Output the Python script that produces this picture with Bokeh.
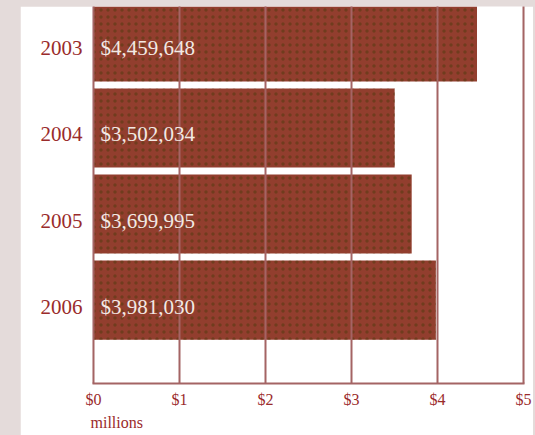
from bokeh.plotting import figure
from bokeh.models import Range1d, FixedTicker, Title, ColumnDataSource, LabelSet
from bokeh.transform import dodge
from bokeh.core.properties import value
from bokeh.embed import file_html
from bokeh.resources import INLINE

years = ["2003", "2004", "2005", "2006"]
amounts = [4459648, 3502034, 3699995, 3981030]
x_ticks = [0, 1, 2, 3, 4, 5]
x_tick_labels = ["$0", "$1", "$2", "$3", "$4", "$5"]
axis_unit = "millions"

BAR = "#923e2e"
GRID = "#a46464"
TXT = "#9a2b2b"
PAGE = "#e4dbda"
FONT = "Liberation Serif"

pos = [len(years) - i for i in range(len(years))]
src = ColumnDataSource(dict(
    year=years,
    pos=pos,
    millions=[a / 1e6 for a in amounts],
    label=[f"${a:,}" for a in amounts],
))

p = figure(width=513, height=429, output_backend="svg", toolbar_location=None,
           x_range=Range1d(-0.012, 5.012), y_range=Range1d(0.105, 4.488),
           min_border_left=72, min_border_right=9, min_border_top=0, min_border_bottom=52,
           background_fill_color="white", border_fill_color="white",
           outline_line_color=None)
p.margin = (6, 2, 0, 20)

p.hbar(y=dodge("pos", 0.075), left=0, right="millions", height=0.92, source=src,
       fill_color=BAR, line_color=None,
       hatch_pattern="dot", hatch_color="#5a3a12", hatch_scale=7, hatch_weight=1.5, hatch_alpha=0.6)

labels = LabelSet(x=0, y="pos", text="label", source=src, x_offset=7,
                  text_baseline="middle", text_align="left",
                  text_font=value(FONT), text_font_size="21px", text_color="#f3e9e4")
p.add_layout(labels)

p.xgrid.ticker = FixedTicker(ticks=x_ticks)
p.xgrid.grid_line_color = GRID
p.xgrid.grid_line_width = 2
p.xgrid.level = "guide"
p.ygrid.grid_line_color = None

p.xaxis.ticker = FixedTicker(ticks=x_ticks)
p.xaxis.major_label_overrides = {t: l for t, l in zip(x_ticks, x_tick_labels)}
p.xaxis.axis_line_color = GRID
p.xaxis.axis_line_width = 2
p.xaxis.major_tick_line_color = None
p.xaxis.minor_tick_line_color = None
p.xaxis.major_tick_out = 0
p.xaxis.major_label_standoff = 7
p.xaxis.major_label_text_font = FONT
p.xaxis.major_label_text_font_size = "16px"
p.xaxis.major_label_text_color = TXT

p.yaxis.ticker = FixedTicker(ticks=pos)
p.yaxis.major_label_overrides = {pp: y for pp, y in zip(pos, years)}
p.yaxis.axis_line_color = None
p.yaxis.major_tick_line_color = None
p.yaxis.minor_tick_line_color = None
p.yaxis.major_tick_out = 0
p.yaxis.major_label_standoff = 10
p.yaxis.major_label_text_font = FONT
p.yaxis.major_label_text_font_size = "21px"
p.yaxis.major_label_text_color = TXT

p.add_layout(Title(text=axis_unit, align="left", text_font=FONT, text_font_size="16px",
                   text_font_style="normal", text_color=TXT, standoff=2, offset=-2), "below")

html = file_html(p, INLINE)
html = html.replace("</head>",
                    f"<style>html,body{{margin:0;padding:0;background:{PAGE};}}</style></head>", 1)
open("out.html", "w").write(html)
